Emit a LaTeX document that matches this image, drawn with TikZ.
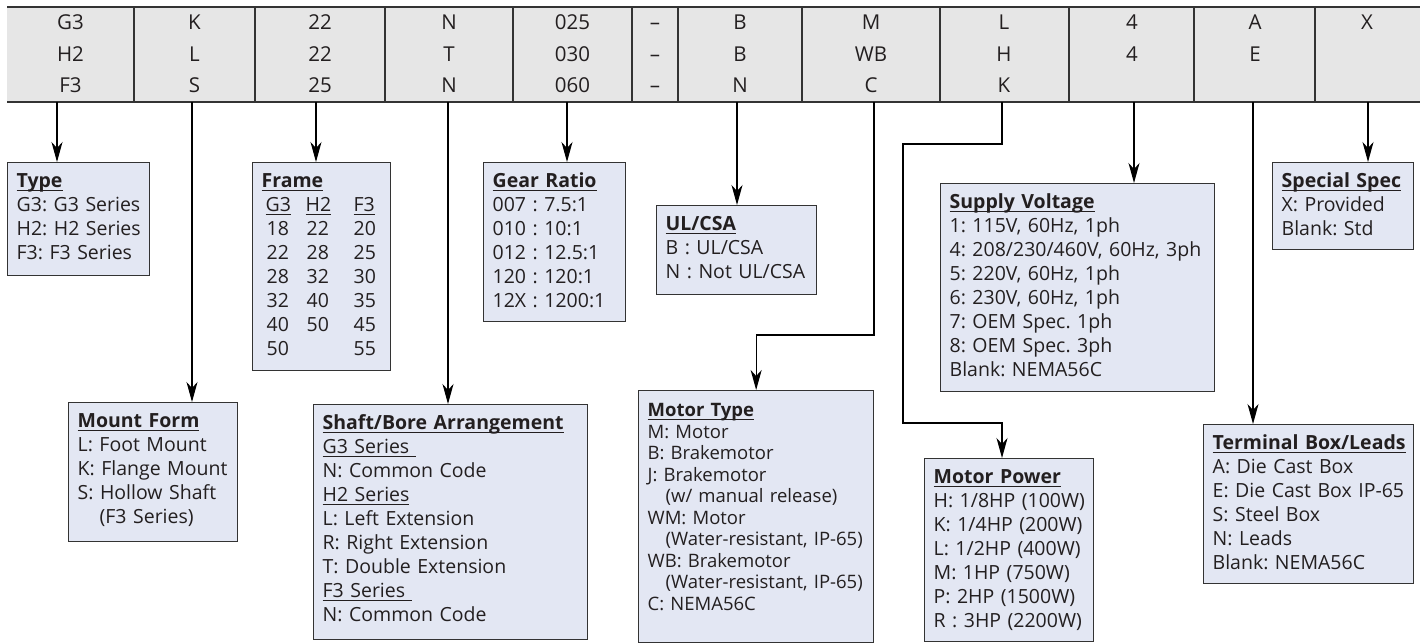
\documentclass[tikz,border=0pt]{standalone}
\usepackage{fontspec}
\setmainfont{Open Sans}
\usetikzlibrary{arrows.meta}
\definecolor{hdrfill}{HTML}{E6E6E6}
\definecolor{boxfill}{HTML}{E3E7F3}
\definecolor{boxline}{HTML}{333333}
\definecolor{txt}{HTML}{231F20}
\frenchspacing
\newsavebox{\undlbox}
\newcommand{\undl}[1]{\leavevmode\sbox{\undlbox}{#1}\rlap{\rule[-3pt]{\wd\undlbox}{1.1pt}}\usebox{\undlbox}}
\newcommand{\ttl}[1]{\textbf{\undl{#1}}}
\newcommand{\lines}[1]{\begin{tabular}[t]{@{}l@{}}#1\end{tabular}}
\tikzset{
  cell/.style={anchor=north, inner sep=0pt, align=center, text width=100pt,
    text height=22.5pt, text=txt, font=\fontsize{20.5}{31.5}\selectfont},
  spec/.style={draw=boxline, fill=boxfill, line width=1.3pt, anchor=north west,
    align=left, inner xsep=9pt, inner ysep=0pt, text height=25pt, text=txt,
    font=\fontsize{19.5}{24}\selectfont},
  conn/.style={draw=black, line width=1.1pt,
    -{Stealth[length=20pt,width=11pt,inset=6pt]}},
}

\begin{document}
\begin{tikzpicture}[x=1pt, y=-1pt]
    \useasboundingbox (0,0) rectangle (1420,643);
    % code header
    \fill[hdrfill] (7,7) rectangle (1420,102);
    \draw[boxline, line width=1.5pt] (7,7) -- (1420,7) (7,102) -- (1420,102);
    \draw[boxline, line width=1.1pt] (134,7) -- (134,102) (255,7) -- (255,102)
        (385,7) -- (385,102) (513,7) -- (513,102) (632,7) -- (632,102)
        (678,7) -- (678,102) (802,7) -- (802,102) (940,7) -- (940,102)
        (1069,7) -- (1069,102) (1194,7) -- (1194,102) (1315,7) -- (1315,102);
    \node[cell] (ctype) at (70.5,7) {G3\\H2\\F3};
    \node[cell] (cmount) at (194.5,7) {K\\L\\S};
    \node[cell] (cframe) at (320,7) {22\\22\\25};
    \node[cell] (cshaft) at (449,7) {N\\T\\N};
    \node[cell] (cratio) at (572.5,7) {025\\030\\060};
    \node[cell] (cdash) at (655,7) {--\\--\\--};
    \node[cell] (cul) at (740,7) {B\\B\\N};
    \node[cell] (cmotor) at (871,7) {M\\WB\\C};
    \node[cell] (cpower) at (1004,7) {L\\H\\K};
    \node[cell] (cvolt) at (1132,7) {4\\4};
    \node[cell] (cterm) at (1255,7) {A\\E};
    \node[cell] (cspec) at (1367,7) {X};
    \coordinate (t1) at (57,102);
    \coordinate (t2) at (192,102);
    \coordinate (t3) at (316,102);
    \coordinate (t4) at (448,102);
    \coordinate (t5) at (567,102);
    \coordinate (t7) at (737,102);
    \coordinate (t8) at (874,102);
    \coordinate (t9) at (1002,102);
    \coordinate (t10) at (1134,102);
    \coordinate (t11) at (1253,102);
    \coordinate (t12) at (1368,102);
    % option boxes
    \node[spec, text width=124pt, text depth=88pt] (type) at (7,162)
        {\lines{\ttl{Type}\\G3: G3 Series\\H2: H2 Series\\F3: F3 Series}};
    \node[spec, text width=120pt, text depth=183pt] (frame) at (252,162)
        {\lines{\ttl{Frame}\\
         \hspace*{4pt}\makebox[40pt][l]{\undl{G3}}\makebox[48pt][l]{\undl{H2}}\undl{F3}\\
         \hspace*{5pt}\makebox[40pt][l]{18}\makebox[47pt][l]{22}20\\
         \hspace*{5pt}\makebox[40pt][l]{22}\makebox[47pt][l]{28}25\\
         \hspace*{5pt}\makebox[40pt][l]{28}\makebox[47pt][l]{32}30\\
         \hspace*{5pt}\makebox[40pt][l]{32}\makebox[47pt][l]{40}35\\
         \hspace*{5pt}\makebox[40pt][l]{40}\makebox[47pt][l]{50}45\\
         \hspace*{5pt}\makebox[40pt][l]{50}\makebox[47pt][l]{}55}};
    \node[spec, text width=124pt, text depth=134pt] (ratio) at (483,162)
        {\lines{\ttl{Gear Ratio}\\007 : 7.5:1\\010 : 10:1\\012 : 12.5:1\\120 : 120:1\\12X : 1200:1}};
    \node[spec, text width=142pt, text depth=64pt] (ul) at (656,205)
        {\lines{\ttl{UL/CSA}\\B : UL/CSA\\N : Not UL/CSA}};
    \node[spec, text width=256pt, text depth=183pt] (volt) at (940,183)
        {\lines{\ttl{Supply Voltage}\\1: 115V, 60Hz, 1ph\\4: 208/230/460V, 60Hz, 3ph\\
         5: 220V, 60Hz, 1ph\\6: 230V, 60Hz, 1ph\\7: OEM Spec. 1ph\\
         8: OEM Spec. 3ph\\Blank: NEMA56C}};
    \node[spec, text width=123pt, text depth=62pt] (spec) at (1272,162)
        {\lines{\ttl{Special Spec}\\X: Provided\\Blank: Std}};
    \node[spec, text width=151pt, text depth=114pt] (mount) at (68,402)
        {\lines{\ttl{Mount Form}\\L: Foot Mount\\K: Flange Mount\\S: Hollow Shaft\\
         \hspace*{22pt}(F3 Series)}};
    \node[spec, text width=256pt, text depth=210pt] (shaft) at (313,404)
        {\lines{\ttl{Shaft/Bore Arrangement}\\\undl{G3 Series\ }\\N: Common Code\\
         \undl{H2 Series}\\L: Left Extension\\R: Right Extension\\
         T: Double Extension\\\undl{F3 Series\ }\\N: Common Code}};
    \node[spec, text width=217pt, text depth=226pt, text height=26pt,
        font=\fontsize{18.5}{21.5}\selectfont] (mtype) at (638,390)
        {\lines{\ttl{Motor Type}\\M: Motor\\B: Brakemotor\\J: Brakemotor\\
         \hspace*{18pt}(w/ manual release)\\WM: Motor\\
         \hspace*{18pt}(Water-resistant, IP-65)\\WB: Brakemotor\\
         \hspace*{18pt}(Water-resistant, IP-65)\\C: NEMA56C}};
    \node[spec, text width=151pt, text depth=158pt] (power) at (924,458)
        {\lines{\ttl{Motor Power}\\H: 1/8HP (100W)\\K: 1/4HP (200W)\\L: 1/2HP (400W)\\
         M: 1HP (750W)\\P: 2HP (1500W)\\R : 3HP (2200W)}};
    \node[spec, text width=192pt, text depth=134pt] (term) at (1203,424)
        {\lines{\ttl{Terminal Box/Leads}\\A: Die Cast Box\\E: Die Cast Box IP-65\\
         S: Steel Box\\N: Leads\\Blank: NEMA56C}};
    % connectors
    \draw[conn] (t1) -- (t1 |- type.north);
    \draw[conn] (t2) -- (t2 |- mount.north);
    \draw[conn] (t3) -- (t3 |- frame.north);
    \draw[conn] (t4) -- (t4 |- shaft.north);
    \draw[conn] (t5) -- (t5 |- ratio.north);
    \draw[conn] (t7) -- (t7 |- ul.north);
    \draw[conn] (t8) -- ++(0,233) -| (mtype.north);
    \draw[conn] (t9) -- ++(0,42) -- ++(-99,0) -- ++(0,279) -| (t9 |- power.north);
    \draw[conn] (t10) -- (t10 |- volt.north);
    \draw[conn] (t11) -- (t11 |- term.north);
    \draw[conn] (t12) -- (t12 |- spec.north);
\end{tikzpicture}
\end{document}
